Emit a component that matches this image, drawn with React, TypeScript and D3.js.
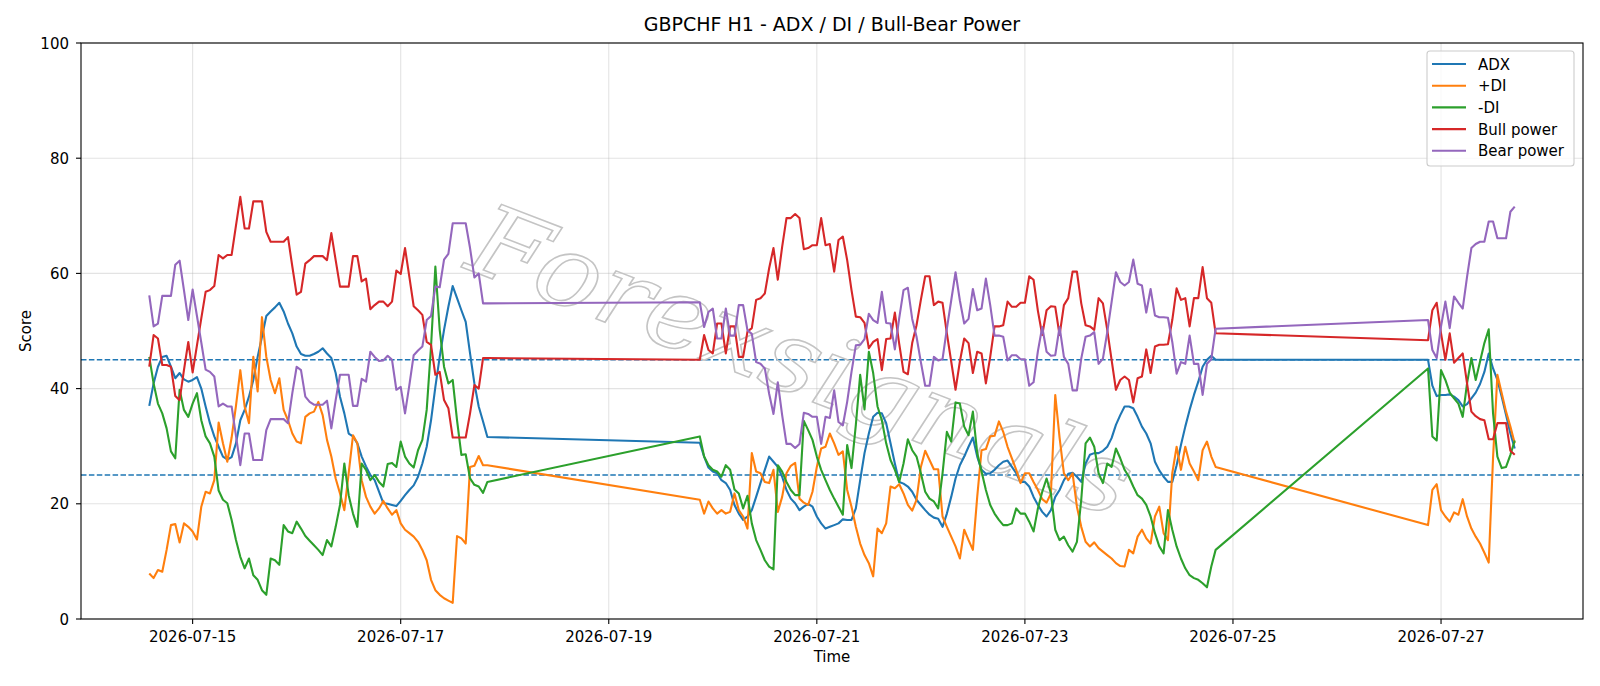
import React from 'react';
import * as d3 from 'd3';

// hourly bars, three trading sessions (weekend gaps in between)
const sessions = [
  { start: '2026-07-14T14:00:00Z', hours: 79 },
  { start: '2026-07-19T21:00:00Z', hours: 120 },
  { start: '2026-07-26T21:00:00Z', hours: 21 },
];

const tickDays = ['2026-07-15', '2026-07-17', '2026-07-19', '2026-07-21', '2026-07-23', '2026-07-25', '2026-07-27'];
const yTicks = [0, 20, 40, 60, 80, 100];
const levels = [25, 45];

const adx = [
  37.0, 40.9, 43.8, 45.5, 45.7, 43.8, 41.8, 42.7, 41.6, 41.2,
  41.5, 42.0, 40.0, 36.9, 34.0, 31.7, 29.9, 28.2, 27.7, 28.1,
  30.5, 34.5, 36.3, 38.6, 41.5, 45.5, 49.0, 52.6, 53.4, 54.1,
  54.9, 53.4, 51.3, 49.6, 47.3, 46.0, 45.7, 45.7, 46.0, 46.4,
  47.0, 46.1, 45.3, 42.7, 38.6, 35.7, 32.2, 31.7, 30.5, 28.2,
  26.5, 25.0, 24.1, 22.1, 20.1, 20.0, 19.8, 19.6, 20.5, 21.5,
  22.4, 23.2, 24.7, 27.0, 29.9, 34.5, 40.3, 45.5, 50.2, 54.2,
  57.8, 55.7, 53.6, 51.6, 46.1, 40.9, 36.9, 34.3, 31.6,
  30.6, 28.2, 26.3, 25.6, 25.3, 24.1, 23.6, 22.4, 19.8, 18.3,
  17.2, 17.8, 18.9, 21.2, 23.6, 25.9, 28.2, 27.3, 26.4, 24.7,
  22.4, 20.9, 20.1, 18.9, 19.5, 20.0, 19.5, 17.8, 16.6, 15.7,
  16.0, 16.3, 16.6, 17.3, 17.2, 17.2, 19.2, 24.1, 28.8, 32.2,
  35.1, 35.8, 35.7, 34.0, 30.5, 27.0, 23.8, 23.5, 23.0, 22.1,
  20.7, 19.8, 18.9, 18.1, 17.6, 17.4, 16.0, 18.3, 21.2, 24.4,
  26.7, 28.2, 29.9, 31.5, 28.2, 25.9, 25.2, 25.3, 25.9, 26.7,
  27.3, 27.5, 26.4, 25.3, 23.8, 23.8, 23.0, 21.2, 19.8, 18.6,
  17.8, 18.9, 21.2, 22.4, 24.1, 25.2, 25.4, 24.7, 23.8, 27.0,
  28.5, 28.8, 28.8, 29.2, 29.9, 31.4, 33.7, 35.4, 36.9, 36.9,
  36.6, 35.1, 33.4, 32.2, 30.5, 27.3, 25.8, 24.7, 23.8, 23.8,
  26.7, 30.2, 33.4, 36.3, 38.9, 41.2, 43.8, 45.0, 45.7, 45.0,
  45.0, 40.5, 38.7, 38.9, 38.9, 39.0, 38.6, 38.0, 36.9, 37.3,
  38.3, 39.3, 40.8, 42.9, 46.1, 43.5, 41.5, 38.6, 35.4, 32.2, 29.6,
];

const plusDI = [
  7.9, 7.1, 8.5, 8.2, 12.0, 16.3, 16.5, 13.3, 16.6, 16.0,
  15.2, 13.8, 19.5, 22.1, 21.8, 24.1, 34.1, 30.5, 27.3, 31.5,
  37.0, 43.2, 36.9, 34.0, 45.5, 39.5, 52.4, 45.5, 41.5, 39.2,
  41.8, 36.3, 34.5, 32.2, 30.8, 30.5, 35.1, 35.7, 36.0, 37.7,
  35.4, 31.1, 28.2, 24.4, 21.8, 18.9, 25.3, 31.9, 30.5, 24.1,
  21.2, 19.5, 18.3, 19.2, 20.5, 19.2, 18.1, 18.9, 16.6, 15.5,
  14.9, 14.3, 13.4, 12.0, 10.2, 6.8, 5.0, 4.2, 3.6, 3.2,
  2.8, 14.4, 14.0, 13.1, 26.4, 26.6, 28.3, 26.7, 26.7,
  20.7, 18.3, 20.4, 19.2, 18.3, 18.9, 18.3, 18.6, 21.8, 18.9,
  17.8, 15.7, 28.8, 25.6, 25.3, 23.8, 23.6, 25.9, 18.6, 21.2,
  25.3, 26.6, 27.1, 20.9, 20.2, 19.8, 22.1, 26.4, 29.6, 29.9,
  32.2, 30.5, 28.5, 29.1, 22.4, 19.5, 16.0, 13.1, 11.1, 9.7,
  7.4, 15.7, 14.9, 16.6, 23.0, 22.7, 23.4, 21.8, 19.8, 18.8,
  20.7, 26.4, 29.2, 27.6, 26.0, 26.0, 17.8, 16.0, 14.3, 12.6,
  10.5, 15.5, 13.7, 12.0, 21.2, 29.3, 29.5, 31.7, 31.8, 34.3,
  32.5, 29.9, 27.9, 25.9, 23.6, 25.3, 25.3, 23.8, 22.4, 20.8,
  20.2, 21.8, 38.9, 31.5, 25.3, 24.1, 25.3, 19.5, 16.0, 13.4,
  12.6, 13.3, 12.3, 11.7, 11.1, 10.5, 9.7, 9.2, 9.1, 12.0,
  11.4, 14.3, 15.5, 14.0, 13.1, 17.8, 19.5, 14.9, 13.7, 25.3,
  29.9, 25.9, 29.9, 27.0, 25.6, 24.1, 29.3, 30.8, 28.2, 26.4,
  16.3, 22.4, 23.4, 18.9, 17.8, 16.9, 18.5, 18.1, 20.8, 17.8,
  15.7, 14.3, 13.1, 11.5, 9.8, 28.0, 42.4, 39.2, 36.0, 33.4, 30.5,
];

const minusDI = [
  45.5, 40.9, 37.4, 35.7, 33.1, 29.1, 27.9, 39.8, 36.3, 35.1,
  37.4, 39.2, 34.5, 31.7, 30.5, 28.2, 22.3, 20.7, 20.1, 17.2,
  13.7, 10.8, 8.8, 10.5, 7.6, 6.8, 5.0, 4.2, 10.5, 10.2,
  9.4, 16.3, 15.2, 14.9, 16.9, 15.7, 14.4, 13.6, 12.8, 12.0,
  11.1, 13.7, 12.6, 16.0, 19.8, 27.0, 21.5, 18.3, 16.0, 27.0,
  25.9, 24.1, 25.0, 23.8, 23.0, 26.9, 27.1, 26.4, 30.8, 28.2,
  27.0, 26.3, 29.3, 31.1, 36.3, 47.3, 61.2, 50.2, 43.8, 40.9,
  41.5, 34.5, 28.5, 28.6, 24.4, 23.3, 23.0, 21.9, 23.8,
  31.7, 28.2, 26.7, 25.9, 25.6, 24.7, 26.7, 25.9, 22.5, 21.8,
  19.2, 21.4, 16.6, 13.7, 12.0, 10.2, 9.1, 8.6, 26.7, 25.6,
  23.8, 22.4, 21.5, 21.5, 34.4, 32.8, 31.1, 28.2, 25.9, 24.1,
  22.4, 20.9, 19.5, 18.1, 30.2, 26.2, 33.7, 42.4, 36.4, 46.4,
  42.7, 36.9, 34.5, 30.5, 27.6, 25.9, 23.8, 27.0, 31.2, 29.3,
  28.2, 25.3, 22.1, 20.9, 20.4, 19.2, 25.3, 32.5, 30.8, 37.6,
  37.4, 33.4, 31.9, 36.0, 28.8, 25.6, 22.4, 19.8, 18.3, 17.2,
  16.3, 16.3, 16.6, 19.2, 18.3, 18.3, 16.9, 15.2, 19.2, 22.1,
  24.4, 21.8, 15.5, 13.7, 14.3, 12.8, 11.7, 13.4, 20.7, 30.5,
  31.5, 29.9, 25.3, 23.6, 27.0, 26.4, 29.6, 27.9, 25.9, 24.7,
  23.0, 21.5, 20.9, 19.8, 17.8, 14.9, 12.6, 11.4, 18.9, 15.5,
  12.6, 10.5, 8.8, 7.6, 7.1, 6.8, 6.2, 5.5, 9.1, 12.0,
  43.5, 31.7, 31.0, 43.2, 41.5, 39.3, 38.3, 37.4, 35.1, 40.9,
  45.3, 41.5, 44.7, 47.9, 50.3, 35.7, 28.2, 26.2, 26.4, 28.5, 31.0,
];

const bullPower = [
  43.8, 49.3, 48.7, 44.1, 44.1, 43.8, 38.7, 38.0, 43.2, 48.1,
  42.8, 47.5, 52.2, 56.8, 57.1, 57.8, 63.2, 62.6, 63.2, 63.2,
  68.3, 73.3, 67.8, 67.8, 72.5, 72.5, 72.5, 67.2, 65.5, 65.5,
  65.5, 65.5, 66.3, 61.2, 56.3, 56.8, 61.7, 62.3, 63.0, 63.0,
  63.0, 62.3, 67.0, 62.3, 57.7, 57.7, 57.7, 63.0, 63.0, 58.6,
  59.1, 53.8, 54.5, 55.1, 55.1, 54.3, 55.1, 60.5, 59.9, 64.4,
  59.4, 54.3, 53.6, 52.8, 48.1, 47.6, 42.4, 42.9, 38.0, 36.6,
  31.5, 31.5, 31.5, 31.5, 35.7, 40.6, 40.0, 45.3, 45.3,
  45.0, 49.3, 46.7, 46.1, 51.3, 51.3, 46.1, 50.8, 50.8, 45.5,
  45.5, 49.9, 50.5, 55.4, 55.7, 56.5, 60.9, 64.4, 58.9, 64.6,
  69.6, 69.6, 70.3, 69.6, 64.2, 64.4, 64.9, 64.9, 69.6, 64.9,
  65.1, 60.3, 65.8, 66.4, 62.3, 57.1, 52.5, 52.4, 51.4, 47.0,
  48.1, 48.6, 43.2, 48.6, 48.7, 53.2, 47.8, 42.9, 42.5, 47.9,
  51.0, 55.4, 59.5, 59.5, 54.5, 55.1, 54.9, 49.6, 44.7, 39.8,
  44.7, 48.7, 47.9, 42.7, 46.4, 46.1, 40.9, 45.5, 50.8, 50.8,
  51.0, 55.1, 54.2, 54.2, 54.9, 54.9, 59.5, 58.9, 53.5, 49.3,
  53.6, 54.3, 54.2, 49.3, 54.5, 55.7, 60.3, 60.3, 54.8, 51.0,
  50.8, 50.2, 55.7, 54.8, 50.2, 45.0, 39.8, 41.5, 42.1, 41.5,
  37.6, 41.8, 42.1, 46.8, 42.7, 47.3, 47.6, 47.6, 47.7, 51.9,
  57.4, 55.4, 55.7, 50.8, 55.7, 55.7, 61.1, 55.7, 54.9, 49.6,
  48.4, 53.6, 54.9, 49.6, 45.0, 49.6, 44.5, 45.3, 46.1, 40.9,
  36.0, 35.2, 34.7, 34.5, 31.2, 31.2, 34.0, 34.0, 34.0, 29.2, 28.5,
];

const bearPower = [
  56.2, 50.8, 51.3, 56.1, 56.1, 56.1, 61.5, 62.2, 57.1, 51.9,
  57.2, 52.6, 48.0, 43.3, 42.9, 42.1, 36.9, 37.4, 36.9, 36.9,
  31.8, 26.7, 32.2, 32.2, 27.6, 27.6, 27.6, 32.8, 34.7, 34.7,
  34.7, 34.7, 34.0, 39.2, 43.8, 43.2, 38.6, 37.7, 37.2, 37.2,
  37.2, 37.9, 33.1, 38.0, 42.4, 42.4, 42.4, 37.0, 37.0, 41.7,
  41.2, 46.4, 45.5, 44.8, 44.9, 45.7, 45.0, 39.8, 40.3, 35.7,
  40.6, 45.8, 46.6, 47.3, 51.9, 52.6, 57.7, 57.6, 62.4, 63.4,
  68.7, 68.7, 68.7, 68.7, 64.4, 59.3, 60.0, 54.8, 54.8,
  55.0, 50.7, 53.3, 53.9, 48.7, 48.7, 53.9, 49.2, 49.2, 54.5,
  54.5, 50.1, 49.5, 44.6, 44.3, 43.5, 39.1, 35.6, 41.1, 35.4,
  30.4, 30.4, 29.7, 30.4, 35.8, 35.6, 35.1, 35.1, 30.4, 35.1,
  34.9, 39.7, 34.2, 33.6, 37.7, 42.9, 47.5, 47.6, 48.6, 53.0,
  51.9, 51.4, 56.8, 51.4, 51.3, 46.8, 52.2, 57.1, 57.5, 52.1,
  49.0, 44.6, 40.5, 40.5, 45.5, 44.9, 45.1, 50.4, 55.3, 60.2,
  55.3, 51.3, 52.1, 57.3, 53.6, 53.9, 59.1, 54.5, 49.2, 49.2,
  49.0, 44.9, 45.8, 45.8, 45.1, 45.1, 40.5, 41.1, 46.5, 50.7,
  46.4, 45.7, 45.8, 50.7, 45.5, 44.3, 39.7, 39.7, 45.2, 49.0,
  49.2, 49.8, 44.3, 45.2, 49.8, 55.0, 60.2, 58.5, 57.9, 58.5,
  62.4, 58.2, 57.9, 53.2, 57.3, 52.7, 52.4, 52.4, 52.3, 48.1,
  42.6, 44.6, 44.3, 49.2, 44.3, 44.3, 38.9, 44.3, 45.1, 50.4,
  51.9, 46.7, 45.3, 50.8, 55.1, 50.5, 56.0, 54.9, 53.9, 59.4,
  64.4, 65.1, 65.5, 65.5, 69.0, 69.0, 66.1, 66.1, 66.1, 70.7, 71.6,
];

const seriesNames = ['ADX', '+DI', '-DI', 'Bull power', 'Bear power'];
const seriesValues = [adx, plusDI, minusDI, bullPower, bearPower];
const seriesColors = ['#1f77b4', '#ff7f0e', '#2ca02c', '#d62728', '#9467bd'];

const W = 1600;
const H = 686;
const left = 81, right = 1583, top = 43, bottom = 619;
const font = 'DejaVu Sans, Verdana, sans-serif';

const times: Date[] = sessions.flatMap(s => {
  const t0 = new Date(s.start);
  return d3.utcHour.range(t0, d3.utcHour.offset(t0, s.hours));
});

const App: React.FC = () => {
  const [t0, t1] = d3.extent(times) as [Date, Date];
  const pad = (t1.getTime() - t0.getTime()) * 0.05;
  const x = d3.scaleUtc()
    .domain([new Date(t0.getTime() - pad), new Date(t1.getTime() + pad)])
    .range([left, right]);
  const y = d3.scaleLinear().domain([0, 100]).range([bottom, top]);

  const line = d3.line<number>()
    .x((_, i) => x(times[i]))
    .y(v => y(v));

  const xTicks = tickDays.map(d => ({ label: d, pos: x(new Date(d + 'T00:00:00Z')) }));

  const legendX = 1427, legendY = 51, rowH = 21.7;

  return (
    <svg width={W} height={H} style={{ position: 'absolute', left: 0, top: 0, background: '#fff' }}
      fontFamily={font}>
      <rect x={0} y={0} width={W} height={H} fill="#fff" />

      {/* grid */}
      <g stroke="#b0b0b0" strokeOpacity={0.35} strokeWidth={1.1}>
        {xTicks.map(t => <line key={t.label} x1={t.pos} x2={t.pos} y1={top} y2={bottom} />)}
        {yTicks.map(v => <line key={v} x1={left} x2={right} y1={y(v)} y2={y(v)} />)}
      </g>

      {/* threshold levels */}
      {levels.map(v => (
        <line key={v} x1={left} x2={right} y1={y(v)} y2={y(v)}
          stroke="#1f77b4" strokeWidth={1.4} strokeDasharray="5.5,2.4" />
      ))}

      {/* watermark */}
      <text x={800} y={395} textAnchor="middle" fontSize={100} fontStyle="italic"
        fontFamily="DejaVu Serif, serif" fill="none" stroke="#c4c4c4" strokeWidth={1.5}
        textLength={700} lengthAdjust="spacingAndGlyphs"
        transform="rotate(21 800 365)">Forexsignals</text>

      {/* series */}
      {seriesValues.map((vals, i) => (
        <path key={seriesNames[i]} d={line(vals) || ''} fill="none"
          stroke={seriesColors[i]} strokeWidth={2.1} strokeLinejoin="round" />
      ))}

      {/* frame */}
      <rect x={left} y={top} width={right - left} height={bottom - top}
        fill="none" stroke="#000" strokeWidth={1.1} />

      {/* x axis */}
      {xTicks.map(t => (
        <g key={t.label}>
          <line x1={t.pos} x2={t.pos} y1={bottom} y2={bottom + 5} stroke="#000" strokeWidth={1.1} />
          <text x={t.pos} y={642} textAnchor="middle" fontSize={15}>{t.label}</text>
        </g>
      ))}
      <text x={(left + right) / 2} y={662} textAnchor="middle" fontSize={15}>Time</text>

      {/* y axis */}
      {yTicks.map(v => (
        <g key={v}>
          <line x1={left - 5} x2={left} y1={y(v)} y2={y(v)} stroke="#000" strokeWidth={1.1} />
          <text x={69} y={y(v) + 5.5} textAnchor="end" fontSize={15}>{v}</text>
        </g>
      ))}
      <text transform={`translate(31 ${(top + bottom) / 2}) rotate(-90)`} textAnchor="middle" fontSize={15}>Score</text>

      <text x={(left + right) / 2} y={31} textAnchor="middle" fontSize={19}>
        GBPCHF H1 - ADX / DI / Bull-Bear Power
      </text>

      {/* legend */}
      <rect x={legendX} y={legendY} width={147} height={115} rx={3}
        fill="#fff" fillOpacity={0.8} stroke="#cccccc" strokeWidth={1.1} />
      {seriesNames.map((name, i) => {
        const ry = legendY + 13 + i * rowH;
        return (
          <g key={name}>
            <line x1={legendX + 5} x2={legendX + 39} y1={ry} y2={ry}
              stroke={seriesColors[i]} strokeWidth={2.1} />
            <text x={legendX + 51} y={ry + 5.5} fontSize={15}>{name}</text>
          </g>
        );
      })}
    </svg>
  );
};

export default App;
